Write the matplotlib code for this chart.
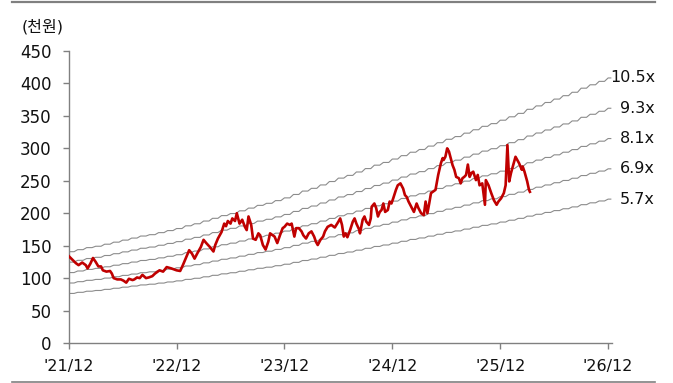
import matplotlib
matplotlib.use("Agg")
import matplotlib.pyplot as plt
import matplotlib.transforms as mtransforms
from matplotlib.lines import Line2D

plt.rcParams['font.family'] = ['DejaVu Sans', 'Noto Sans CJK KR']

# 월별 EPS (천원), '21/12 = 0 ~ '26/12 = 60
eps = [13.4, 13.7, 14.0, 14.2, 14.5, 14.8, 15.1, 15.4, 15.7, 15.9, 16.2, 16.5, 16.8,
       17.2, 17.5, 17.9, 18.3, 18.7, 19.0, 19.4, 19.8, 20.2, 20.5, 20.9, 21.3,
       21.8, 22.3, 22.7, 23.2, 23.7, 24.2, 24.6, 25.1, 25.6, 26.1, 26.5, 27.0,
       27.5, 28.0, 28.4, 28.9, 29.4, 29.9, 30.3, 30.8, 31.3, 31.8, 32.2, 32.7,
       33.2, 33.7, 34.3, 34.8, 35.3, 35.8, 36.3, 36.8, 37.4, 37.9, 38.4, 38.9]
multiples = [5.7, 6.9, 8.1, 9.3, 10.5]

# 주가 (천원)
price_month = [
    0.0, 0.8, 1.1, 1.5, 1.9, 2.1, 2.4, 2.7, 3.0, 3.3, 3.6, 3.8, 4.2, 4.6, 4.8,
    5.0, 5.4, 5.8, 6.1, 6.4, 6.7, 7.1, 7.3, 7.6, 7.9, 8.2, 8.6, 8.9, 9.3,
    9.6, 10.1, 10.5, 10.9, 11.4, 12.0, 12.4, 12.7, 13.1, 13.4, 13.7, 14.0, 14.3, 14.7,
    15.0, 15.3, 15.7, 16.1, 16.3, 16.6, 16.8, 17.0, 17.3, 17.5, 17.7, 18.0, 18.2, 18.5,
    18.7, 19.0, 19.3, 19.6, 19.8, 20.0, 20.3, 20.5, 20.8, 21.1, 21.3, 21.6, 21.9, 22.2,
    22.4, 22.7, 22.9, 23.2, 23.5, 23.8, 24.0, 24.3, 24.6, 24.8, 25.1, 25.3, 25.6, 25.9,
    26.1, 26.4, 26.7, 27.0, 27.3, 27.5, 27.7, 28.0, 28.3, 28.5,
    28.8, 29.2, 29.6, 30.0, 30.2, 30.4, 30.6, 30.8, 31.0, 31.3, 31.6, 31.8, 32.0, 32.3,
    32.4, 32.7, 32.9, 33.1, 33.4, 33.6, 33.7, 34.0, 34.2, 34.4, 34.6, 34.8, 35.0, 35.2,
    35.5, 35.7, 35.9, 36.1, 36.4, 36.6, 36.9, 37.2, 37.4,
    37.6, 37.8, 38.1, 38.4, 38.7, 38.9, 39.2, 39.5, 39.7, 39.9, 40.1, 40.3, 40.5, 40.8,
    41.1, 41.4, 41.6, 41.7, 41.9, 42.1, 42.3, 42.6, 42.7, 42.9, 43.1, 43.4, 43.6, 43.8,
    44.0, 44.2, 44.4, 44.6, 44.8,
    45.0, 45.3, 45.5, 45.7, 46.0, 46.3, 46.4, 46.7, 47.0, 47.3, 47.6, 47.8, 48.1, 48.4,
    48.6, 48.8, 49.0, 49.2, 49.4, 49.7, 49.9, 50.1, 50.4, 50.5, 50.7, 51.0, 51.2, 51.3]
price = [
    134, 123, 120, 124, 120, 115, 122, 131, 125, 118, 118, 112, 110, 111, 107,
    100, 98, 98, 96, 93, 99, 97, 98, 101, 100, 105, 100, 101, 103,
    107, 112, 110, 117, 115, 112, 111, 120, 133, 143, 138, 130, 138, 148,
    159, 154, 148, 141, 151, 161, 166, 171, 184, 180, 188, 184, 192, 188,
    200, 184, 190, 179, 174, 195, 182, 161, 159, 169, 166, 151, 144, 156,
    169, 166, 164, 154, 166, 177, 179, 184, 182, 184, 164, 177, 177, 172,
    166, 161, 169, 172, 164, 156, 151, 159, 164, 172,
    179, 182, 178, 187, 192, 182, 164, 169, 163, 174, 187, 192, 184, 175,
    169, 190, 195, 187, 182, 192, 210, 215, 208, 195, 202, 205, 215, 202,
    205, 218, 215, 223, 236, 243, 246, 238, 228,
    225, 218, 210, 202, 215, 208, 200, 197, 218, 200, 215, 231, 233, 236,
    259, 277, 285, 282, 287, 300, 295, 279, 274, 267, 256, 254, 246, 254,
    256, 259, 275, 256, 262,
    264, 251, 259, 243, 246, 213, 251, 243, 231, 220, 213, 218, 223, 231,
    243, 305, 249, 262, 272, 287, 282, 277, 267, 272, 264, 249, 236, 233]
assert len(price_month) == len(price)

tick_labels = ["'21/12", "'22/12", "'23/12", "'24/12", "'25/12", "'26/12"]

x_end = 60.3

fig = plt.figure(figsize=(6.73, 3.83), dpi=100)
ax = fig.add_axes([68.7 / 673, 40 / 383, (611.7 - 68.7) / 673, 292 / 383])

# 월별 계단형 밴드 (완만한 경사 구간 포함)
bx, bfac = [], []
for i, e in enumerate(eps):
    bx += [i, min(i + 0.6, x_end)]
    bfac += [e, e]

label_tr = mtransforms.blended_transform_factory(fig.transFigure, ax.transData)
for m in multiples:
    ax.plot(bx, [v * m for v in bfac], color='#8c8c8c', lw=0.8, zorder=2)
    ax.text(655 / 673, eps[-1] * m, f'{m}x', transform=label_tr,
            ha='right', va='center', fontsize=11.5, color='#111111')

ax.plot(price_month, price, color='#C00000', lw=1.9, zorder=3)

ax.set_xlim(0, 60.4)
ax.set_ylim(0, 450)
ax.set_xticks(range(0, 61, 12))
ax.set_xticklabels(tick_labels)
ax.set_yticks(range(0, 451, 50))

for side in ['top', 'right']:
    ax.spines[side].set_visible(False)
for side in ['left', 'bottom']:
    ax.spines[side].set_color('#808080')
    ax.spines[side].set_linewidth(1.0)
ax.tick_params(axis='both', colors='#808080', labelcolor='#111111',
               labelsize=11.5, length=4.3, width=1.0)
ax.tick_params(axis='y', pad=8, labelsize=12)
ax.tick_params(axis='x', pad=7)

fig.text(22 / 673, 1 - 27 / 383, '(천원)', ha='left', va='center',
         fontsize=11.5, color='#111111')

# 상·하단 구분선
fig.add_artist(Line2D([12 / 673, 655 / 673], [1 - 1.5 / 383] * 2,
                      color='#808080', lw=1.6))
fig.add_artist(Line2D([12 / 673, 655 / 673], [1.5 / 383] * 2,
                      color='#808080', lw=1.2))

fig.savefig('out.png', dpi=100)
